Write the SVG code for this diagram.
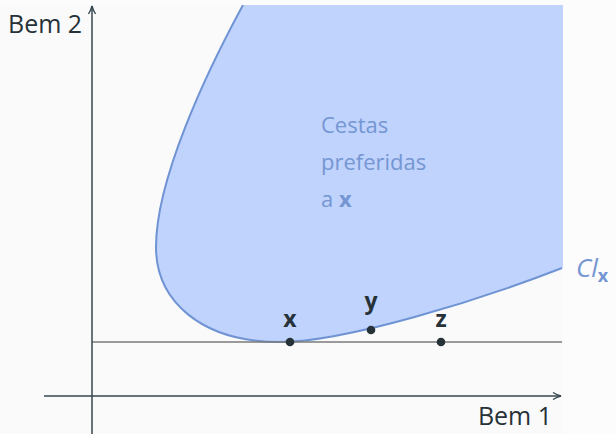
<svg xmlns="http://www.w3.org/2000/svg" width="616" height="434" viewBox="0 0 616 434">
<defs>
<style>
.axis{stroke:#37474f;stroke-width:1.5;fill:none}
.lbl{font-family:"Open Sans","Lato",sans-serif;font-size:25px;fill:#263238}
.pt{font-family:"Open Sans","Lato",sans-serif;font-size:23px;font-weight:bold;fill:#263238}
.blue{font-family:"Open Sans","Lato",sans-serif;font-size:22px;fill:#7596d2}
.dot{fill:#263238}
</style>
<marker id="arr" viewBox="0 0 10 10" refX="9" refY="5" markerWidth="10" markerHeight="10" markerUnits="userSpaceOnUse" orient="auto">
<path d="M1,1.5 Q5,4 9,5 Q5,6 1,8.5" fill="none" stroke="#37474f" stroke-width="1.4"/>
</marker>
<clipPath id="clip"><rect x="0" y="5" width="563" height="429"/></clipPath>
</defs>
<rect width="616" height="434" fill="#fcfcfc"/>
<rect x="0" y="5" width="563" height="429" fill="#fafafa"/>
<g id="region" clip-path="url(#clip)">
<path d="M243,5 C205,75 156,180 156,247 C156,300 200,342 280,342 C345,342 480,300 562,268 L600,250 L600,0 L245,0 Z" fill="#bfd3fd" stroke="none"/>
<path d="M243,5 C205,75 156,180 156,247 C156,300 200,342 280,342 C345,342 480,300 562,268" fill="none" stroke="#6f93d3" stroke-width="2"/>
</g>
<g id="connectors">
<line x1="92" y1="342" x2="562" y2="342" stroke="#7a7a7a" stroke-width="1.3"/>
<line class="axis" x1="92" y1="434" x2="92" y2="6" marker-end="url(#arr)"/>
<line class="axis" x1="44" y1="396" x2="561" y2="396" marker-end="url(#arr)"/>
</g>
<g id="labels">
<text class="lbl" x="8" y="33">Bem 2</text>
<text class="lbl" x="552" y="425" text-anchor="end">Bem 1</text>
<text class="blue" x="321" y="133">Cestas</text>
<text class="blue" x="321" y="170">preferidas</text>
<text class="blue" x="321" y="207">a <tspan font-weight="bold">x</tspan></text>
<text font-family="Open Sans, Lato, sans-serif" font-size="26" font-style="italic" fill="#7596d2" x="576" y="277">Cl<tspan font-size="18" font-weight="bold" font-style="normal" dy="5">x</tspan></text>
</g>
<g id="point-x"><circle class="dot" cx="290" cy="342" r="4.3"/><text class="pt" x="290" y="327" text-anchor="middle">x</text></g>
<g id="point-y"><circle class="dot" cx="371" cy="330" r="4.3"/><text class="pt" x="371" y="309" text-anchor="middle">y</text></g>
<g id="point-z"><circle class="dot" cx="441" cy="342" r="4.3"/><text class="pt" x="441" y="327" text-anchor="middle">z</text></g>
</svg>
